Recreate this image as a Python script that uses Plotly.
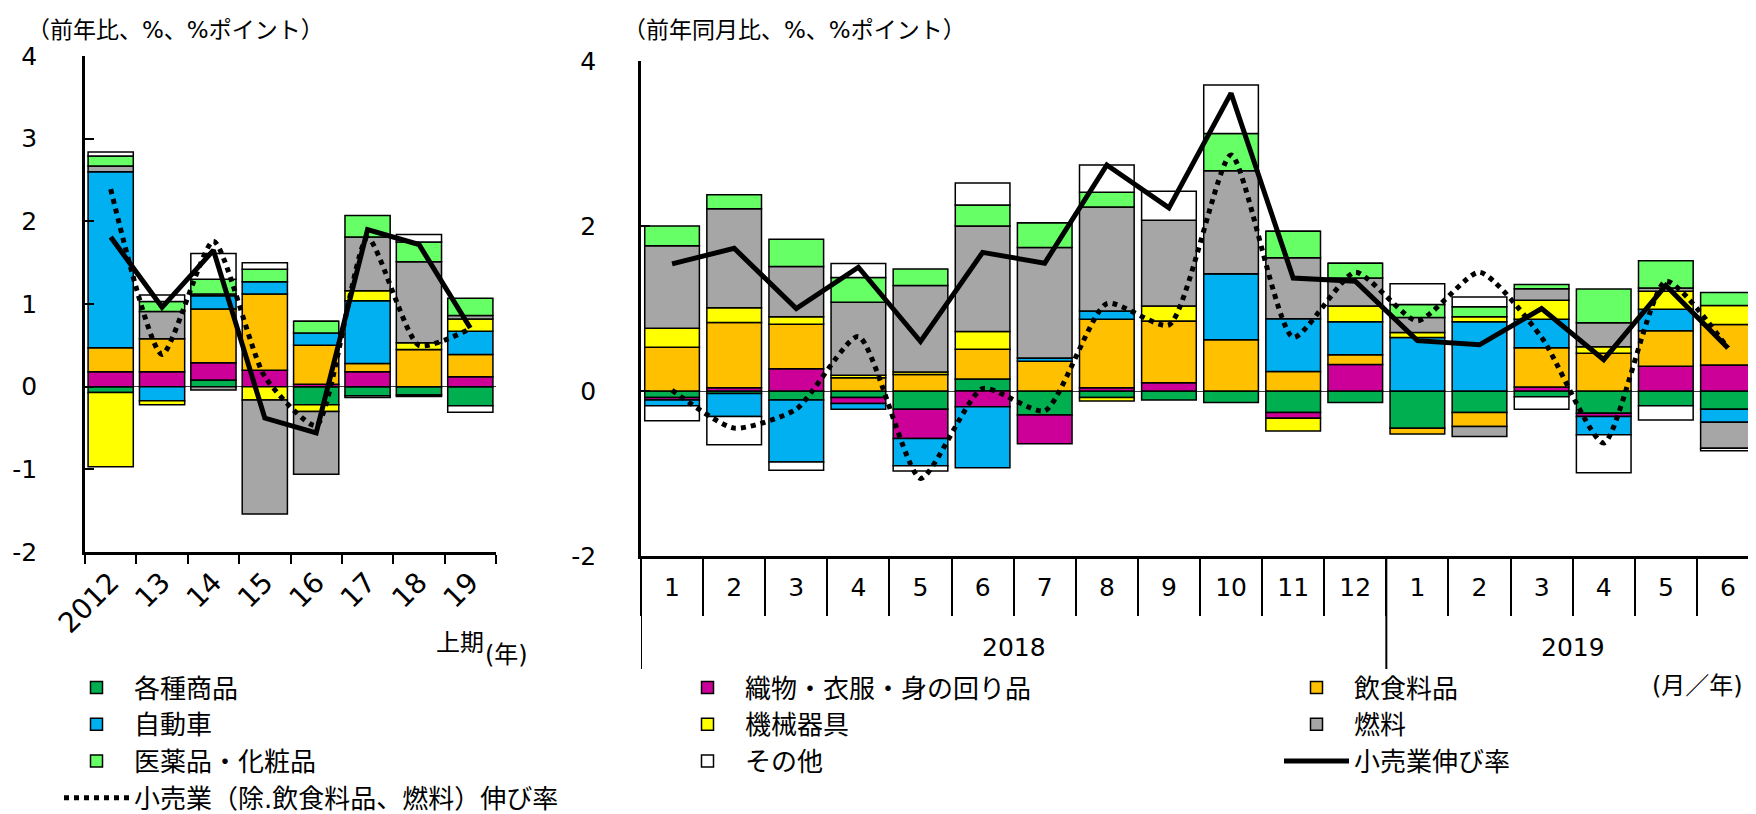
import plotly.graph_objects as go

W, H = 1756, 814

# ---------------- data ----------------
half_years = ["2012", "13", "14", "15", "16", "17", "18", "19"]
month_labels = ["1", "2", "3", "4", "5", "6", "7", "8", "9", "10", "11", "12",
                "1", "2", "3", "4", "5", "6"]
month_years = ["2018"] * 12 + ["2019"] * 6

series_names = ["各種商品", "織物・衣服・身の回り品", "飲食料品", "自動車",
                "機械器具", "燃料", "医薬品・化粧品", "その他"]
series_colors = ["#00B050", "#CC0099", "#FFC000", "#00B0F0",
                 "#FFFF00", "#A6A6A6", "#66FF66", "#FFFFFF"]
line_names = ["小売業伸び率", "小売業（除.飲食料品、燃料）伸び率"]

left_ticks = [-2, -1, 0, 1, 2, 3, 4]
right_ticks = [-2, 0, 2, 4]

# half-year (January-June) contributions, %pt
h_general = [-0.07, 0.00, 0.08, 0.00, -0.22, -0.11, -0.10, -0.23]
h_apparel = [0.18, 0.18, 0.21, 0.20, 0.03, 0.18, -0.02, 0.12]
h_food = [0.29, 0.40, 0.65, 0.92, 0.47, 0.10, 0.45, 0.27]
h_auto = [2.13, -0.17, 0.16, 0.15, 0.15, 0.76, 0.00, 0.28]
h_machinery = [-0.90, -0.05, 0.02, -0.16, -0.08, 0.12, 0.08, 0.15]
h_fuel = [0.07, 0.33, -0.04, -1.38, -0.76, 0.65, 0.98, 0.04]
h_drug = [0.12, 0.12, 0.18, 0.15, 0.14, 0.26, 0.24, 0.21]
h_other = [0.05, 0.08, 0.31, 0.08, 0.00, -0.02, 0.09, -0.08]
h_retail = [1.81, 0.96, 1.65, -0.38, -0.56, 1.90, 1.72, 0.71]
h_retail_core = [2.39, 0.39, 1.76, 0.12, -0.47, 1.80, 0.50, 0.70]

# monthly contributions (2018/1 - 2019/6), %pt
m_general = [-0.08, -0.03, -0.11, -0.08, -0.22, 0.145, -0.29, -0.08, -0.11,
             -0.14, -0.26, -0.14, -0.45, -0.26, -0.07, -0.27, -0.18, -0.22]
m_apparel = [-0.03, 0.04, 0.27, -0.07, -0.355, -0.19, -0.35, 0.04, 0.10,
             0.00, -0.07, 0.32, 0.00, 0.00, 0.05, -0.04, 0.30, 0.315]
m_food = [0.53, 0.79, 0.54, 0.16, 0.20, 0.36, 0.36, 0.83, 0.75,
          0.62, 0.235, 0.12, -0.07, -0.17, 0.475, 0.457, 0.43, 0.49]
m_auto = [-0.07, -0.28, -0.75, -0.07, -0.33, -0.74, 0.04, 0.10, 0.00,
          0.80, 0.64, 0.40, 0.65, 0.84, 0.345, -0.22, 0.26, -0.16]
m_machinery = [0.23, 0.18, 0.09, 0.03, 0.03, 0.215, 0.00, -0.04, 0.18,
               0.00, -0.155, 0.19, 0.06, 0.06, 0.23, 0.08, 0.22, 0.23]
m_fuel = [1.00, 1.20, 0.61, 0.885, 1.05, 1.28, 1.34, 1.26, 1.04,
          1.25, 0.74, 0.34, 0.18, -0.12, 0.14, 0.29, 0.04, -0.315]
m_drug = [0.24, 0.17, 0.33, 0.30, 0.20, 0.255, 0.30, 0.18, 0.00,
          0.45, 0.32, 0.18, 0.16, 0.12, 0.05, 0.41, 0.33, 0.16]
m_other = [-0.18, -0.34, -0.10, 0.17, -0.065, 0.265, 0.00, 0.33, 0.35,
           0.59, 0.00, 0.00, 0.25, 0.12, -0.15, -0.46, -0.17, -0.03]
m_retail = [1.54, 1.73, 1.00, 1.50, 0.60, 1.68, 1.55, 2.74, 2.22,
            3.61, 1.37, 1.33, 0.61, 0.56, 1.00, 0.38, 1.28, 0.52]
m_retail_core = [0.01, -0.45, -0.22, 0.66, -1.06, 0.03, -0.24, 1.06, 0.80,
                 2.86, 0.65, 1.44, 0.85, 1.44, 0.65, -0.63, 1.33, 0.52]

half_series = [h_general, h_apparel, h_food, h_auto, h_machinery, h_fuel, h_drug, h_other]
month_series = [m_general, m_apparel, m_food, m_auto, m_machinery, m_fuel, m_drug, m_other]

# ---------------- figure ----------------
FONT = "DejaVu Sans, Noto Sans CJK JP, sans-serif"


def fx(p):
    return p / W


def fy(p):
    return 1 - p / H


# unique category keys for the monthly axis, labelled with the month only
month_keys = [f"{y}-{m}" for y, m in zip(month_years, month_labels)]

# year groups on the monthly axis (first index, last index)
year_groups = []
for idx, yr in enumerate(month_years):
    if not year_groups or year_groups[-1][0] != yr:
        year_groups.append([yr, idx, idx])
    else:
        year_groups[-1][2] = idx

# legend column for each entry (3 columns, row-major like the original)
legend_of = ["legend", "legend2", "legend3", "legend", "legend2",
             "legend3", "legend", "legend2", "legend3", "legend"]

fig = go.Figure()

for i, name in enumerate(series_names):
    fig.add_trace(go.Bar(
        x=half_years, y=half_series[i], name=name, legendgroup=name,
        showlegend=False, marker=dict(color=series_colors[i], line=dict(color="black", width=1.5)),
        xaxis="x", yaxis="y"))
    fig.add_trace(go.Bar(
        x=month_keys, y=month_series[i], name=name, legendgroup=name,
        legend=legend_of[i],
        marker=dict(color=series_colors[i], line=dict(color="black", width=1.5)),
        xaxis="x2", yaxis="y2"))

dot_line = dict(color="black", width=5, dash="dot", shape="spline", smoothing=0.6)
fig.add_trace(go.Scatter(x=half_years, y=h_retail, mode="lines", name=line_names[0],
                         legendgroup=line_names[0], showlegend=False,
                         line=dict(color="black", width=5), xaxis="x", yaxis="y"))
fig.add_trace(go.Scatter(x=half_years, y=h_retail_core, mode="lines", name=line_names[1],
                         legendgroup=line_names[1], showlegend=False,
                         line=dot_line, xaxis="x", yaxis="y"))
fig.add_trace(go.Scatter(x=month_keys, y=m_retail, mode="lines", name=line_names[0],
                         legendgroup=line_names[0], legend=legend_of[8],
                         line=dict(color="black", width=5), xaxis="x2", yaxis="y2"))
fig.add_trace(go.Scatter(x=month_keys, y=m_retail_core, mode="lines", name=line_names[1],
                         legendgroup=line_names[1], legend=legend_of[9],
                         line=dot_line, xaxis="x2", yaxis="y2"))

axis_common = dict(showgrid=False, showline=True, linecolor="black", linewidth=2.5,
                   automargin=False, tickcolor="black")
tick_font = dict(size=25, color="black", family=FONT)

legend_common = dict(orientation="v", xanchor="left", yanchor="top",
                     font=dict(size=26, color="black", family=FONT),
                     bgcolor="rgba(0,0,0,0)", traceorder="normal", itemclick=False,
                     borderwidth=0, itemwidth=65)

fig.update_layout(
    width=W, height=H,
    margin=dict(l=0, r=0, t=0, b=0, autoexpand=False),
    paper_bgcolor="white", plot_bgcolor="white",
    font=dict(family=FONT, color="black"),
    barmode="relative", bargap=0.12,
    xaxis=dict(domain=[fx(77), fx(488)], anchor="y", type="category",
               categoryorder="array", categoryarray=half_years,
               range=[-0.5, 7.5], tickangle=-45, ticks="outside", tickson="boundaries",
               ticklen=9, tickwidth=2, tickfont=dict(tick_font, size=28), **axis_common),
    yaxis=dict(domain=[fy(544), fy(48)], anchor="x", range=[-2, 4],
               tickvals=left_ticks, ticktext=[str(v) for v in left_ticks],
               ticks="inside", ticklen=9, tickwidth=2, ticklabelstandoff=40, tickfont=tick_font,
               zeroline=True, zerolinecolor="#404040", zerolinewidth=1.3, **axis_common),
    xaxis2=dict(domain=[fx(633), fx(1751)], anchor="y2", type="category",
                categoryorder="array", categoryarray=month_keys,
                tickvals=month_keys, ticktext=month_labels, tickangle=0,
                range=[-0.5, 17.5], ticks="outside", tickson="boundaries",
                ticklen=57, tickwidth=2, ticklabelstandoff=7, tickfont=tick_font,
                **axis_common),
    yaxis2=dict(domain=[fy(548), fy(53)], anchor="x2", range=[-2, 4],
                tickvals=right_ticks, ticktext=[str(v) for v in right_ticks],
                ticks="inside", ticklen=9, tickwidth=2, ticklabelstandoff=37, tickfont=tick_font,
                zeroline=True, zerolinecolor="#404040", zerolinewidth=1.3, **axis_common),
    legend=dict(x=fx(51), y=fy(656), **legend_common),
    legend2=dict(x=fx(662), y=fy(656), **legend_common),
    legend3=dict(x=fx(1271), y=fy(656), **legend_common),
    showlegend=True,
)

annotations = [
    dict(text="（前年比、%、%ポイント）", x=fx(17), y=fy(22), xanchor="left", yanchor="middle",
         font=dict(size=23)),
    dict(text="（前年同月比、%、%ポイント）", x=fx(613), y=fy(22), xanchor="left", yanchor="middle",
         font=dict(size=23)),
    dict(text="上期", x=fx(452), y=fy(635), xanchor="center", yanchor="middle",
         font=dict(size=24)),
    dict(text="(年)", x=fx(475), y=fy(647), xanchor="left", yanchor="middle",
         font=dict(size=24)),
    dict(text="(月／年)", x=fx(1642), y=fy(678), xanchor="left", yanchor="middle",
         font=dict(size=24)),
]
for a in annotations:
    a.update(xref="paper", yref="paper", showarrow=False)
    a["font"].update(family=FONT, color="black")

# year labels under the month labels, centred on each year's months
for yr, i0, i1 in year_groups:
    annotations.append(dict(text=yr, x=(i0 + i1) / 2, y=fy(639), xref="x2", yref="paper",
                            xanchor="center", yanchor="middle", showarrow=False,
                            font=dict(size=25, family=FONT, color="black")))
fig.update_layout(annotations=annotations)

# year dividers below the monthly axis
shapes = []
for k, (yr, i0, i1) in enumerate(year_groups):
    bounds = [i0 - 0.5, i1 + 0.5] if k == 0 else [i1 + 0.5]
    for b in bounds:
        shapes.append(dict(type="line", xref="x2", yref="paper", x0=b, x1=b,
                           y0=fy(548), y1=fy(661), line=dict(color="black", width=2)))
fig.update_layout(shapes=shapes)

fig.write_html("out.html")
